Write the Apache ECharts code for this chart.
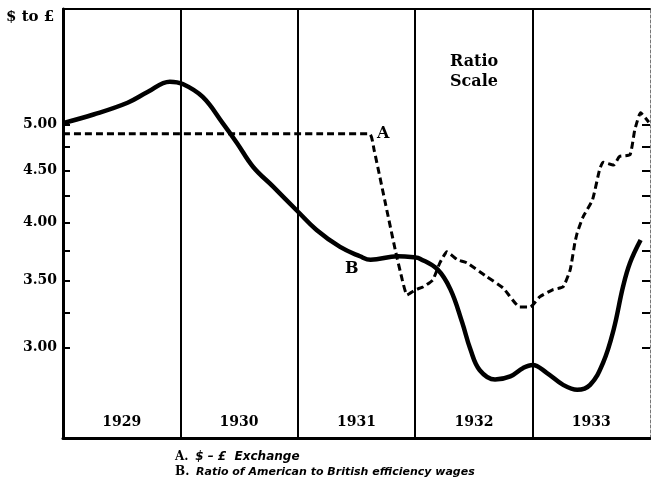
<!DOCTYPE html>
<html><head><meta charset="utf-8">
<script src="https://cdn.jsdelivr.net/npm/echarts@6/dist/echarts.min.js"></script>
<style>html,body{margin:0;padding:0;background:#fff}#c{width:651px;height:481px}</style>
</head><body><div id="c"></div>
<script>
// ---- data ----
const yearBounds = [1930, 1931, 1932, 1933];
const yearLabels = ['1929', '1930', '1931', '1932', '1933'];
const yLabelValues = [3.0, 3.5, 4.0, 4.5, 5.0];
const yTickValues = [3.0, 3.25, 3.5, 3.75, 4.0, 4.25, 4.5, 4.75, 5.0];

// B. Ratio of American to British efficiency wages
const bYears  = [1929.0, 1929.26, 1929.55, 1929.72, 1929.91, 1930.02, 1930.19, 1930.36, 1930.48, 1930.62, 1930.79, 1931.0, 1931.16, 1931.36, 1931.53, 1931.62, 1931.85, 1932.0, 1932.04, 1932.19, 1932.30, 1932.40, 1932.47, 1932.55, 1932.68, 1932.81, 1932.92, 1933.0, 1933.12, 1933.26, 1933.38, 1933.49, 1933.60, 1933.69, 1933.77, 1933.83, 1933.92];
const bValues = [5.02, 5.12, 5.26, 5.39, 5.52, 5.49, 5.33, 5.02, 4.80, 4.54, 4.34, 4.10, 3.93, 3.78, 3.70, 3.67, 3.70, 3.69, 3.68, 3.59, 3.43, 3.18, 2.99, 2.85, 2.79, 2.81, 2.865, 2.885, 2.833, 2.756, 2.725, 2.756, 2.898, 3.127, 3.45, 3.645, 3.84];

// A. $-£ Exchange
const aYears  = [1929.0, 1931.61, 1931.65, 1931.74, 1931.83, 1931.89, 1931.93, 1932.0, 1932.07, 1932.15, 1932.21, 1932.27, 1932.36, 1932.44, 1932.61, 1932.75, 1932.89, 1932.98, 1933.06, 1933.17, 1933.26, 1933.32, 1933.36, 1933.38, 1933.43, 1933.51, 1933.57, 1933.60, 1933.69, 1933.74, 1933.83, 1933.87, 1933.92, 1933.99];
const aValues = [4.90, 4.90, 4.72, 4.21, 3.755, 3.505, 3.387, 3.426, 3.45, 3.505, 3.645, 3.738, 3.67, 3.645, 3.53, 3.44, 3.295, 3.295, 3.371, 3.426, 3.45, 3.587, 3.816, 3.904, 4.05, 4.21, 4.51, 4.59, 4.56, 4.65, 4.67, 4.94, 5.14, 5.03];

const zip = (xs, ys) => xs.map((x, i) => [x, ys[i]]);

const serif = '"DejaVu Serif", "Liberation Serif", serif';
const italicSans = 'italic bold 11px "DejaVu Sans", "Liberation Sans", sans-serif';
const chart = echarts.init(document.getElementById('c'), null, {renderer: 'canvas'});
chart.setOption({
  animation: false,
  backgroundColor: '#fff',
  grid: {left: 63, right: 1, top: 9, bottom: 43},
  xAxis: [{
    type: 'value', min: 1929, max: 1934, position: 'bottom',
    axisLine: {lineStyle: {color: '#000', width: 3}},
    axisTick: {show: false, customValues: yearBounds},
    splitLine: {show: true, lineStyle: {color: '#000', width: 2}},
    axisLabel: {
      inside: true, margin: 9,
      customValues: yearLabels.map(l => Number(l) + 0.5),
      formatter: v => String(Math.floor(v)),
      color: '#000', fontFamily: serif, fontWeight: 'bold', fontSize: 14
    }
  }, {
    type: 'value', min: 1929, max: 1934, position: 'top',
    axisLine: {show: true, lineStyle: {color: '#000', width: 2}},
    axisTick: {show: false}, axisLabel: {show: false}, splitLine: {show: false}
  }],
  yAxis: [{
    type: 'log', logBase: 10, min: 2.44, max: 6.52, position: 'left',
    axisLine: {show: true, lineStyle: {color: '#000', width: 3}},
    axisTick: {show: true, inside: true, length: 7, lineStyle: {color: '#000', width: 2}, customValues: yTickValues},
    axisLabel: {
      customValues: yLabelValues, margin: 6,
      formatter: v => Number(v).toFixed(2),
      color: '#000', fontFamily: serif, fontWeight: 'bold', fontSize: 14
    },
    splitLine: {show: false}, minorTick: {show: false}
  }, {
    type: 'log', logBase: 10, min: 2.44, max: 6.52, position: 'right',
    axisLine: {show: true, lineStyle: {color: '#777', width: 1, type: [3, 2]}},
    axisTick: {show: true, inside: true, length: 8, lineStyle: {color: '#000', width: 2}, customValues: yTickValues},
    axisLabel: {show: false},
    splitLine: {show: false}
  }],
  series: [{
    name: 'B', type: 'line', data: zip(bYears, bValues),
    xAxisIndex: 0, yAxisIndex: 0, smooth: 0.4, symbol: 'none',
    lineStyle: {color: '#000', width: 4.5}, z: 3
  }, {
    name: 'A', type: 'line', data: zip(aYears, aValues),
    xAxisIndex: 0, yAxisIndex: 0, smooth: 0.15, symbol: 'none',
    lineStyle: {color: '#000', width: 3, type: [7, 4]}, z: 4
  }],
  graphic: [
    {type: 'text', left: 6, top: 10, style: {text: '$ to £', font: 'bold 15px ' + serif, fill: '#000'}},
    {type: 'text', left: 450, top: 52, style: {text: 'Ratio\nScale', font: 'bold 16px ' + serif, fill: '#000', lineHeight: 20, align: 'center'}},
    {type: 'text', left: 377, top: 126, style: {text: 'A', font: 'bold 16px ' + serif, fill: '#000'}},
    {type: 'text', left: 345, top: 261, style: {text: 'B', font: 'bold 16px ' + serif, fill: '#000'}},
    {type: 'text', left: 175, top: 451, style: {
      rich: {
        u: {font: 'bold 12px ' + serif, fill: '#000'},
        i: {font: 'italic bold 12px "DejaVu Sans", "Liberation Sans", sans-serif', fill: '#000'}
      },
      text: '{u|A.}  {i|$ – £  Exchange}'
    }},
    {type: 'text', left: 175, top: 466, style: {
      rich: {
        u: {font: 'bold 12px ' + serif, fill: '#000'},
        i: {font: italicSans, fill: '#000'}
      },
      text: '{u|B.}  {i|Ratio of American to British efficiency wages}'
    }}
  ]
});
</script>
</body></html>
